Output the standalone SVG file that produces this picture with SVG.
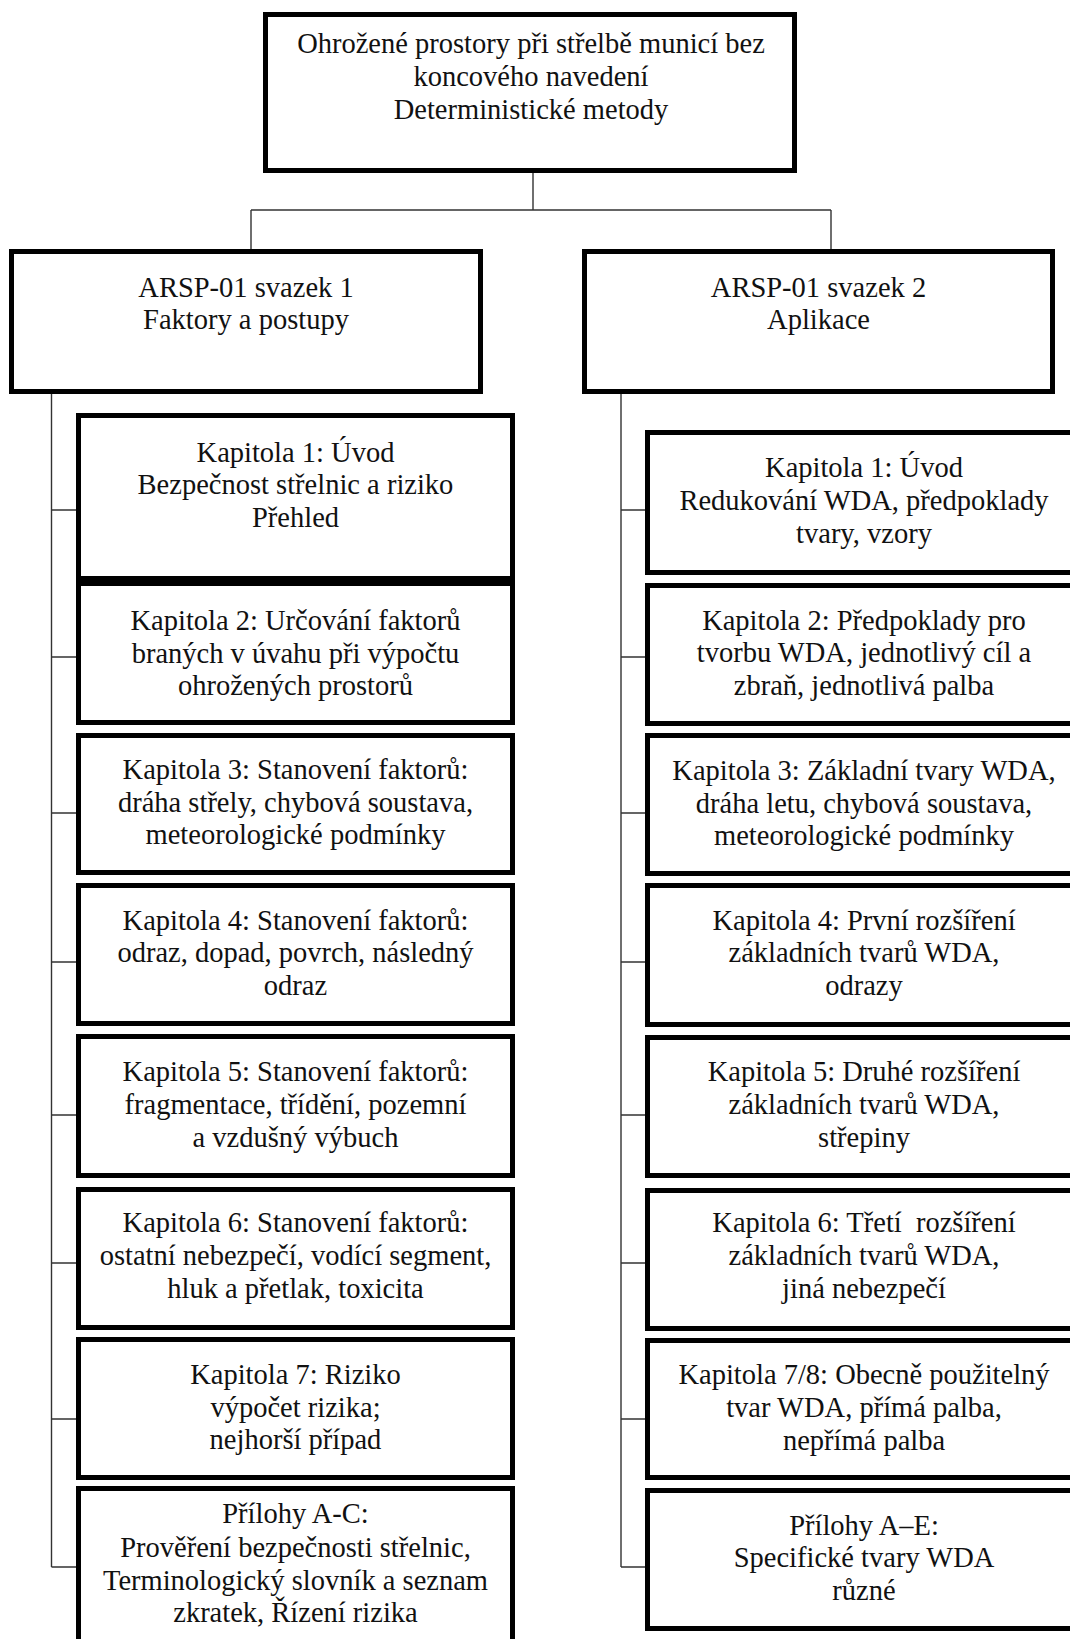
<svg xmlns="http://www.w3.org/2000/svg" width="1070" height="1639" viewBox="0 0 1070 1639">
  <style>
    .box { fill: #ffffff; stroke: #000000; stroke-width: 5; }
    .lbl { font-family: "Liberation Serif", "Times New Roman", serif; font-size: 28.5px; fill: #111111; text-anchor: middle; }
    .wire { fill: none; stroke: #333333; stroke-width: 1.4; }
  </style>
  <rect x="0" y="0" width="1070" height="1639" fill="#ffffff"/>

  <!-- connectors -->
  <g id="connectors" class="wire">
    <path d="M533 173 V210 M251 210 H831 M251 210 V249 M831 210 V249"/>
    <!-- left spine and ticks -->
    <path d="M51.5 394 V1567 M51.5 510 H76 M51.5 657 H76 M51.5 813 H76 M51.5 962 H76 M51.5 1115 H76 M51.5 1263 H76 M51.5 1419 H76 M51.5 1567 H76"/>
    <!-- right spine and ticks -->
    <path d="M621 394 V1567 M621 510 H645 M621 657 H645 M621 813 H645 M621 962 H645 M621 1115 H645 M621 1263 H645 M621 1419 H645 M621 1567 H645"/>
  </g>

  <!-- root -->
  <g id="root">
    <rect class="box" x="265.5" y="14.5" width="529" height="156"/>
    <text class="lbl" x="531" y="53">Ohrožené prostory při střelbě municí bez</text>
    <text class="lbl" x="531" y="86">koncového navedení</text>
    <text class="lbl" x="531" y="118.5">Deterministické metody</text>
  </g>

  <!-- volume 1 -->
  <g id="vol1">
    <rect class="box" x="11.5" y="251.5" width="469" height="140"/>
    <text class="lbl" x="246" y="297">ARSP-01 svazek 1</text>
    <text class="lbl" x="246" y="329">Faktory a postupy</text>
  </g>

  <!-- volume 2 -->
  <g id="vol2">
    <rect class="box" x="584.5" y="251.5" width="468" height="140"/>
    <text class="lbl" x="818.5" y="297">ARSP-01 svazek 2</text>
    <text class="lbl" x="818.5" y="329">Aplikace</text>
  </g>

  <!-- volume 1 chapters -->
  <g id="v1-ch1">
    <rect class="box" x="78.5" y="415.5" width="434" height="163"/>
    <text class="lbl" x="295.5" y="462">Kapitola 1: Úvod</text>
    <text class="lbl" x="295.5" y="494">Bezpečnost střelnic a riziko</text>
    <text class="lbl" x="295.5" y="527">Přehled</text>
  </g>
  <g id="v1-ch2">
    <rect class="box" x="78.5" y="583.5" width="434" height="139"/>
    <text class="lbl" x="295.5" y="630">Kapitola 2: Určování faktorů</text>
    <text class="lbl" x="295.5" y="663">braných v úvahu při výpočtu</text>
    <text class="lbl" x="295.5" y="695">ohrožených prostorů</text>
  </g>
  <g id="v1-ch3">
    <rect class="box" x="78.5" y="735.5" width="434" height="137"/>
    <text class="lbl" x="295.5" y="779">Kapitola 3: Stanovení faktorů:</text>
    <text class="lbl" x="295.5" y="812">dráha střely, chybová soustava,</text>
    <text class="lbl" x="295.5" y="844">meteorologické podmínky</text>
  </g>
  <g id="v1-ch4">
    <rect class="box" x="78.5" y="885.5" width="434" height="138"/>
    <text class="lbl" x="295.5" y="930">Kapitola 4: Stanovení faktorů:</text>
    <text class="lbl" x="295.5" y="962">odraz, dopad, povrch, následný</text>
    <text class="lbl" x="295.5" y="995">odraz</text>
  </g>
  <g id="v1-ch5">
    <rect class="box" x="78.5" y="1036.5" width="434" height="139"/>
    <text class="lbl" x="295.5" y="1081">Kapitola 5: Stanovení faktorů:</text>
    <text class="lbl" x="295.5" y="1114">fragmentace, třídění, pozemní</text>
    <text class="lbl" x="295.5" y="1147">a vzdušný výbuch</text>
  </g>
  <g id="v1-ch6">
    <rect class="box" x="78.5" y="1189.5" width="434" height="138"/>
    <text class="lbl" x="295.5" y="1232">Kapitola 6: Stanovení faktorů:</text>
    <text class="lbl" x="295.5" y="1265">ostatní nebezpečí, vodící segment,</text>
    <text class="lbl" x="295.5" y="1298">hluk a přetlak, toxicita</text>
  </g>
  <g id="v1-ch7">
    <rect class="box" x="78.5" y="1339.5" width="434" height="138"/>
    <text class="lbl" x="295.5" y="1384">Kapitola 7: Riziko</text>
    <text class="lbl" x="295.5" y="1417">výpočet rizika;</text>
    <text class="lbl" x="295.5" y="1449">nejhorší případ</text>
  </g>
  <g id="v1-annex">
    <rect class="box" x="78.5" y="1488.5" width="434" height="170"/>
    <text class="lbl" x="295.5" y="1523">Přílohy A-C:</text>
    <text class="lbl" x="295.5" y="1557">Prověření bezpečnosti střelnic,</text>
    <text class="lbl" x="295.5" y="1590">Terminologický slovník a seznam</text>
    <text class="lbl" x="295.5" y="1622">zkratek, Řízení rizika</text>
  </g>

  <!-- volume 2 chapters -->
  <g id="v2-ch1">
    <rect class="box" x="647.5" y="432.5" width="433" height="140"/>
    <text class="lbl" x="864" y="477">Kapitola 1: Úvod</text>
    <text class="lbl" x="864" y="510">Redukování WDA, předpoklady</text>
    <text class="lbl" x="864" y="543">tvary, vzory</text>
  </g>
  <g id="v2-ch2">
    <rect class="box" x="647.5" y="585.5" width="433" height="138"/>
    <text class="lbl" x="864" y="630">Kapitola 2: Předpoklady pro</text>
    <text class="lbl" x="864" y="662">tvorbu WDA, jednotlivý cíl a</text>
    <text class="lbl" x="864" y="695">zbraň, jednotlivá palba</text>
  </g>
  <g id="v2-ch3">
    <rect class="box" x="647.5" y="735.5" width="433" height="138"/>
    <text class="lbl" x="864" y="780">Kapitola 3: Základní tvary WDA,</text>
    <text class="lbl" x="864" y="813">dráha letu, chybová soustava,</text>
    <text class="lbl" x="864" y="845">meteorologické podmínky</text>
  </g>
  <g id="v2-ch4">
    <rect class="box" x="647.5" y="885.5" width="433" height="139"/>
    <text class="lbl" x="864" y="930">Kapitola 4: První rozšíření</text>
    <text class="lbl" x="864" y="962">základních tvarů WDA,</text>
    <text class="lbl" x="864" y="995">odrazy</text>
  </g>
  <g id="v2-ch5">
    <rect class="box" x="647.5" y="1037.5" width="433" height="138"/>
    <text class="lbl" x="864" y="1081">Kapitola 5: Druhé rozšíření</text>
    <text class="lbl" x="864" y="1114">základních tvarů WDA,</text>
    <text class="lbl" x="864" y="1147">střepiny</text>
  </g>
  <g id="v2-ch6">
    <rect class="box" x="647.5" y="1190.5" width="433" height="138"/>
    <text class="lbl" x="864" y="1232" xml:space="preserve">Kapitola 6: Třetí  rozšíření</text>
    <text class="lbl" x="864" y="1265">základních tvarů WDA,</text>
    <text class="lbl" x="864" y="1298">jiná nebezpečí</text>
  </g>
  <g id="v2-ch78">
    <rect class="box" x="647.5" y="1340.5" width="433" height="137"/>
    <text class="lbl" x="864" y="1384">Kapitola 7/8: Obecně použitelný</text>
    <text class="lbl" x="864" y="1417">tvar WDA, přímá palba,</text>
    <text class="lbl" x="864" y="1450">nepřímá palba</text>
  </g>
  <g id="v2-annex">
    <rect class="box" x="647.5" y="1490.5" width="433" height="138"/>
    <text class="lbl" x="864" y="1535">Přílohy A–E:</text>
    <text class="lbl" x="864" y="1567">Specifické tvary WDA</text>
    <text class="lbl" x="864" y="1600">různé</text>
  </g>
</svg>
